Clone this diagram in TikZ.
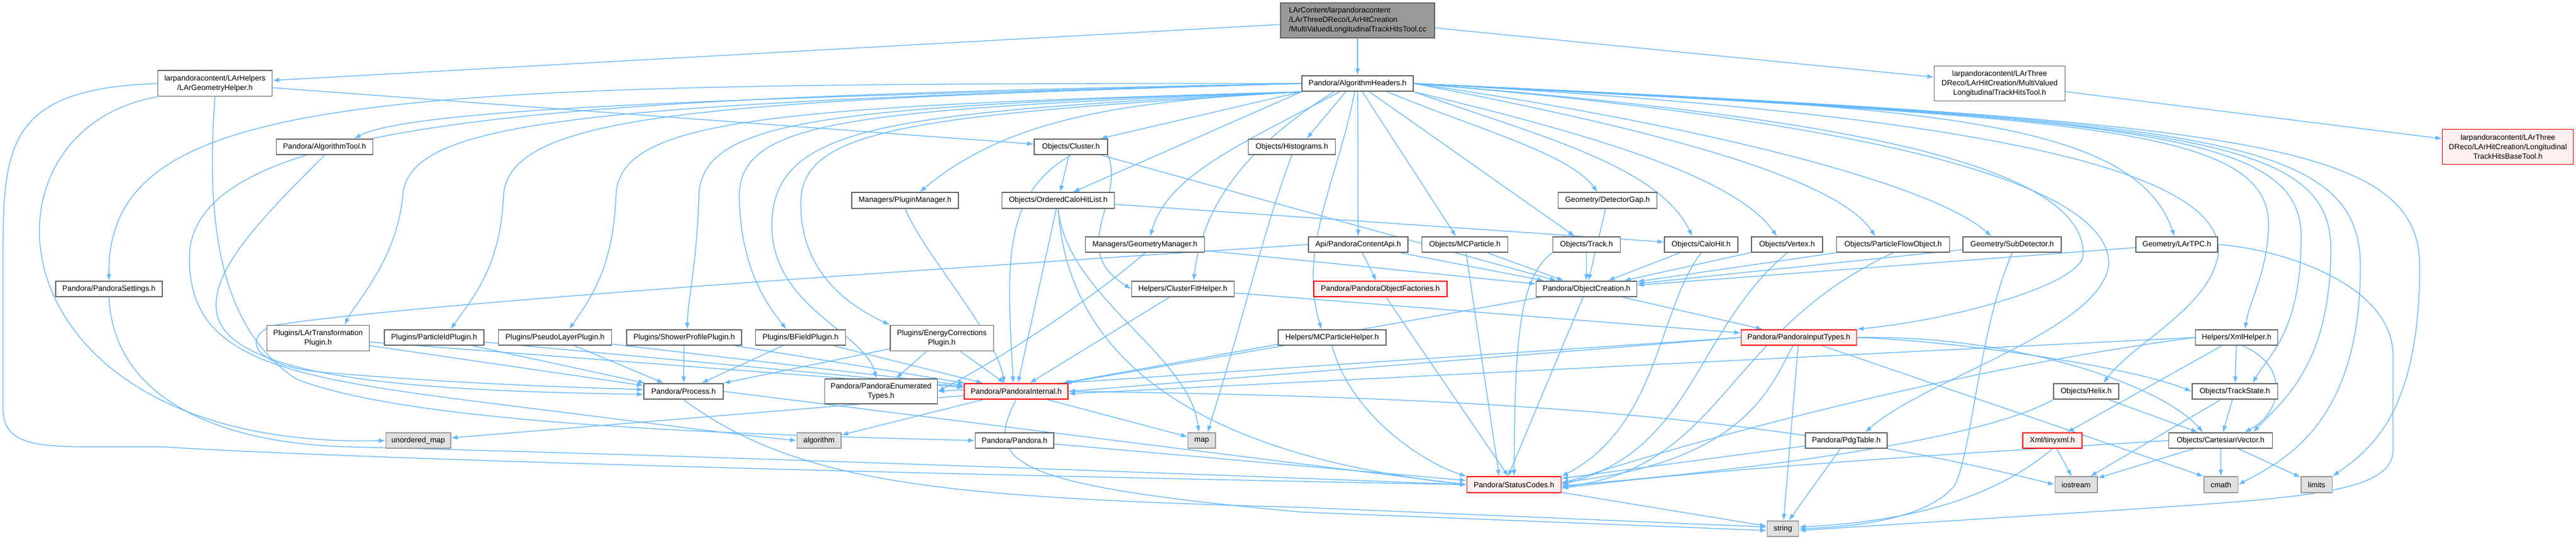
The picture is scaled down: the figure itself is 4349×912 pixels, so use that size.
\documentclass[tikz,border=0pt]{standalone}
\usepackage{fontspec}
\newfontfamily\lab{Liberation Sans}
\usetikzlibrary{arrows.meta}
\definecolor{edgec}{HTML}{63B8FF}
\definecolor{bord}{HTML}{666666}
\definecolor{mainf}{HTML}{999999}
\definecolor{redf}{HTML}{FFF0F0}
\definecolor{redb}{HTML}{FF0000}
\definecolor{sysf}{HTML}{E0E0E0}
\definecolor{sysb}{HTML}{999999}
\pgfdeclarelayer{bgwhite}
\pgfdeclarelayer{edges}
\pgfsetlayers{bgwhite,edges,main}
\tikzset{
  box/.style={draw=bord, fill=white, line width=1.6pt, inner sep=0pt, align=center,
    font={\lab\fontsize{12.8pt}{16pt}\selectfont}, minimum height=26.5pt},
  mainbox/.style={box, fill=mainf},
  redbox/.style={box, draw=redb, fill=redf},
  sysbox/.style={box, draw=sysb, fill=sysf},
  edge/.style={draw=edgec, line width=1.3pt, -{Latex[length=11pt,width=8pt]}},
}
\begin{document}
\begin{tikzpicture}[x=1pt,y=-1pt]
\begin{pgfonlayer}{bgwhite}
\fill[white] (0,0) rectangle (4349,912);
\end{pgfonlayer}
\useasboundingbox (0,0) rectangle (4349,912);

% ---------- nodes ----------
\node[mainbox, minimum width=260pt, minimum height=59pt, align=left] (main) at (2292,34.3)
  {LArContent/larpandoracontent\\/LArThreeDReco/LArHitCreation\\/MultiValuedLongitudinalTrackHitsTool.cc};
\node[box, minimum width=188pt] (algh) at (2292,141) {Pandora/AlgorithmHeaders.h};
\node[box, minimum width=193pt, minimum height=43.4pt] (lgh) at (363,141) {larpandoracontent/LArHelpers\\/LArGeometryHelper.h};
\node[box, minimum width=221pt, minimum height=59pt] (mvh) at (3376,141) {larpandoracontent/LArThree\\DReco/LArHitCreation/MultiValued\\LongitudinalTrackHitsTool.h};
\node[redbox, minimum width=221pt, minimum height=58.6pt] (base) at (4234,248) {larpandoracontent/LArThree\\DReco/LArHitCreation/Longitudinal\\TrackHitsBaseTool.h};
\node[box, minimum width=163pt] (atool) at (548,248) {Pandora/AlgorithmTool.h};
\node[box, minimum width=124pt] (cluster) at (1808,248) {Objects/Cluster.h};
\node[box, minimum width=147pt] (hist) at (2181,248) {Objects/Histograms.h};
\node[box, minimum width=180pt] (pluginmgr) at (1528,338.5) {Managers/PluginManager.h};
\node[box, minimum width=190pt] (ochl) at (1786.5,338.5) {Objects/OrderedCaloHitList.h};
\node[box, minimum width=167pt] (detgap) at (2714,338.5) {Geometry/DetectorGap.h};
\node[box, minimum width=201pt] (geomgr) at (1933,413) {Managers/GeometryManager.h};
\node[box, minimum width=168pt] (api) at (2293,413) {Api/PandoraContentApi.h};
\node[box, minimum width=145pt] (mcp) at (2473,413) {Objects/MCParticle.h};
\node[box, minimum width=114pt] (track) at (2678.5,413) {Objects/Track.h};
\node[box, minimum width=123.5pt] (calohit) at (2872,413) {Objects/CaloHit.h};
\node[box, minimum width=120pt] (vertex) at (3017,413) {Objects/Vertex.h};
\node[box, minimum width=191pt] (pfo) at (3196,413) {Objects/ParticleFlowObject.h};
\node[box, minimum width=165.5pt] (subdet) at (3397,413) {Geometry/SubDetector.h};
\node[box, minimum width=138pt] (lartpc) at (3675,413) {Geometry/LArTPC.h};
\node[box, minimum width=180pt] (settings) at (184,488) {Pandora/PandoraSettings.h};
\node[box, minimum width=173pt] (cfh) at (1997,488) {Helpers/ClusterFitHelper.h};
\node[redbox, minimum width=224.5pt] (factories) at (2330.5,488) {Pandora/PandoraObjectFactories.h};
\node[box, minimum width=170pt] (objcreate) at (2678.5,488) {Pandora/ObjectCreation.h};
\node[box, minimum width=173pt, minimum height=43.3pt] (lartp) at (537,571) {Plugins/LArTransformation\\Plugin.h};
\node[box, minimum width=168pt] (pidp) at (733,570) {Plugins/ParticleIdPlugin.h};
\node[box, minimum width=191pt] (plp) at (937,570) {Plugins/PseudoLayerPlugin.h};
\node[box, minimum width=193.5pt] (spp) at (1155,570) {Plugins/ShowerProfilePlugin.h};
\node[box, minimum width=152pt] (bfp) at (1351.5,570) {Plugins/BFieldPlugin.h};
\node[box, minimum width=174.6pt, minimum height=43.3pt] (ecp) at (1590,571) {Plugins/EnergyCorrections\\Plugin.h};
\node[box, minimum width=181.6pt] (mcph) at (2249,570) {Helpers/MCParticleHelper.h};
\node[redbox, minimum width=195pt] (pit) at (3037,570) {Pandora/PandoraInputTypes.h};
\node[box, minimum width=139pt] (xmlh) at (3776,570) {Helpers/XmlHelper.h};
\node[box, minimum width=133.7pt] (process) at (1154,661) {Pandora/Process.h};
\node[box, minimum width=190pt, minimum height=42.3pt] (enum) at (1487.5,661) {Pandora/PandoraEnumerated\\Types.h};
\node[redbox, minimum width=175pt] (internal) at (1715.6,661) {Pandora/PandoraInternal.h};
\node[box, minimum width=110pt] (helix) at (3522,661) {Objects/Helix.h};
\node[box, minimum width=144.6pt] (trackstate) at (3773,661) {Objects/TrackState.h};
\node[sysbox, minimum width=109.4pt] (umap) at (706,744) {unordered\_map};
\node[sysbox, minimum width=74.4pt] (algorithm) at (1382.7,744) {algorithm};
\node[box, minimum width=132.5pt] (pandora) at (1712.8,744) {Pandora/Pandora.h};
\node[sysbox, minimum width=46.4pt] (map) at (2028.8,744) {map};
\node[box, minimum width=137.6pt] (pdg) at (3117,744) {Pandora/PdgTable.h};
\node[redbox, minimum width=99.6pt] (tinyxml) at (3465,744) {Xml/tinyxml.h};
\node[box, minimum width=174.7pt] (cartesian) at (3749,744) {Objects/CartesianVector.h};
\node[redbox, minimum width=159pt] (status) at (2556,818.5) {Pandora/StatusCodes.h};
\node[sysbox, minimum width=71.4pt] (iostream) at (3505,818.5) {iostream};
\node[sysbox, minimum width=57.5pt] (cmath) at (3749.5,818.5) {cmath};
\node[sysbox, minimum width=52.6pt] (limits) at (3911,818.5) {limits};
\node[sysbox, minimum width=53.3pt] (string) at (3010,893) {string};

% ---------- edges ----------
\begin{pgfonlayer}{edges}
% main
\draw[edge] (main) -- (algh);
\draw[edge] (main) -- (lgh);
\draw[edge] (main) -- (mvh);
\draw[edge] (mvh) -- (base);
% LArGeometryHelper
\draw[edge] (lgh) -- (cluster);
\draw[edge] (lgh.south west) .. controls (-60,220) and (-20,760) .. (umap.west);
\draw[edge] (lgh.west) .. controls (5,150) and (5,250) .. (5,450) -- (5,690)
  .. controls (5,770) and (100,752) .. (280,755) .. controls (600,775) and (1500,800) .. (status.west);
\draw[edge] (lgh.south) .. controls (345,400) and (380,560) .. (500,640)
  .. controls (700,720) and (1300,735) .. (pandora.west);
% AlgorithmHeaders, left fan
\draw[edge] (algh.west) .. controls (650,140) and (180,150) .. (settings.north);
\draw[edge] (algh.west) .. controls (1300,165) and (700,180) .. ([xshift=50]atool.north);
\draw[edge] (algh.west) .. controls (1000,165) and (330,190) .. (320,430)
  .. controls (315,620) and (500,640) .. (900,690) .. controls (1100,715) and (1250,735) .. (algorithm.west);
\draw[edge] (algh.west) .. controls (1000,175) and (690,200) .. (680,330)
  .. controls (670,440) and (600,510) .. ([xshift=45]lartp.north);
\draw[edge] (algh.west) .. controls (1200,170) and (860,190) .. (850,330)
  .. controls (845,450) and (800,500) .. ([xshift=28]pidp.north);
\draw[edge] (algh.south west) .. controls (1300,180) and (1045,200) .. (1040,330)
  .. controls (1035,450) and (1000,500) .. ([xshift=24]plp.north);
\draw[edge] (algh.south west) .. controls (1400,180) and (1185,200) .. (1180,330)
  .. controls (1176,450) and (1162,500) .. ([xshift=5]spp.north);
\draw[edge] (algh.south west) .. controls (1450,185) and (1250,200) .. (1248,330)
  .. controls (1250,460) and (1300,520) .. ([xshift=-24]bfp.north);
\draw[edge] (algh.south west) .. controls (1500,190) and (1305,210) .. (1303,380)
  .. controls (1303,520) and (1460,560) .. ([xshift=-8]enum.north);
\draw[edge] (algh.south west) .. controls (1550,195) and (1355,215) .. (1352,340)
  .. controls (1350,450) and (1420,510) .. (ecp.north west);
\draw[edge] (algh.south west) .. controls (1900,170) and (1700,200) .. ([xshift=25]pluginmgr.north);
\draw[edge] (algh.south west) -- ([xshift=50]cluster.north);
\draw[edge] (algh.south west) -- ([xshift=25]ochl.north);
\draw[edge] ([xshift=-20]algh.south) -- ([xshift=25]hist.north);
\draw[edge] ([xshift=-30]algh.south) .. controls (2080,250) and (1970,300) .. ([xshift=9]geomgr.north);
\draw[edge] ([xshift=-40]algh.south) .. controls (2100,250) and (2030,350) .. ([xshift=18]cfh.north);
\draw[edge] ([xshift=-5]algh.south) .. controls (2260,300) and (2190,420) .. ([xshift=-18]mcph.north);
\draw[edge] (algh) -- (api);
\draw[edge] ([xshift=8]algh.south) -- ([xshift=-15]mcp.north);
\draw[edge] ([xshift=20]algh.south) -- ([xshift=-20]track.north);
\draw[edge] ([xshift=50]algh.south) .. controls (2500,220) and (2650,260) .. ([xshift=-17]detgap.north);
\draw[edge] (algh.south east) .. controls (2600,230) and (2800,280) .. ([xshift=-15]calohit.north);
\draw[edge] (algh.south east) .. controls (2700,230) and (2930,300) .. ([xshift=-17]vertex.north);
\draw[edge] (algh.east) .. controls (2800,220) and (3100,300) .. ([xshift=-30]pfo.north);
\draw[edge] (algh.east) .. controls (2800,200) and (3250,300) .. ([xshift=-35]subdet.north);
\draw[edge] (algh.east) .. controls (3200,180) and (3600,190) .. ([xshift=-4]lartpc.north);
\draw[edge] (algh.east) .. controls (3000,190) and (3520,260) .. (3517,430)
  .. controls (3515,480) and (3300,540) .. (pit.north east);
\draw[edge] (algh.east) .. controls (3100,200) and (3570,300) .. (3560,450)
  .. controls (3540,560) and (3250,640) .. ([xshift=32]pdg.north);
\draw[edge] (algh.east) .. controls (3300,190) and (3760,280) .. (3745,430)
  .. controls (3730,520) and (3600,580) .. ([xshift=29]helix.north);
\draw[edge] (algh.east) .. controls (3500,200) and (3830,210) .. (3830,380)
  .. controls (3828,460) and (3800,500) .. ([xshift=14]xmlh.north);
\draw[edge] (algh.east) .. controls (3600,200) and (3885,220) .. (3885,400)
  .. controls (3885,560) and (3830,600) .. ([xshift=30]trackstate.north);
\draw[edge] (algh.east) .. controls (3650,205) and (3935,220) .. (3935,420)
  .. controls (3935,620) and (3850,680) .. ([xshift=55]cartesian.north);
\draw[edge] (algh.east) .. controls (3700,205) and (3985,220) .. (3985,450)
  .. controls (3985,720) and (3850,780) .. (cmath.east);
\draw[edge] (algh.east) .. controls (3800,205) and (4085,240) .. (4085,450)
  .. controls (4085,700) and (4000,760) .. (limits.north east);
% AlgorithmTool, settings, api
\draw[edge] (atool.south) .. controls (450,360) and (360,450) .. (365,520)
  .. controls (370,640) and (700,660) .. ([yshift=-5]process.west);
\draw[edge] (settings.south) .. controls (190,650) and (330,750) .. (600,755)
  .. controls (1200,770) and (2000,800) .. (status.west);
\draw[edge] (api.west) .. controls (1800,440) and (700,510) .. (460,550)
  .. controls (410,570) and (420,620) .. (560,630) .. controls (800,650) and (1000,655) .. ([yshift=3]process.west);
\draw[edge] (api) -- (factories);
\draw[edge] (api) -- (objcreate);
% plugins
\draw[edge] (lartp) -- (process);
\draw[edge] (lartp) -- (internal);
\draw[edge] (pidp) -- (process);
\draw[edge] (pidp) -- (internal);
\draw[edge] (plp) -- (process);
\draw[edge] (plp) -- (internal);
\draw[edge] (spp) -- (process);
\draw[edge] (spp) -- (internal);
\draw[edge] (bfp) -- (process);
\draw[edge] (bfp) -- (internal);
\draw[edge] (ecp) -- (process);
\draw[edge] (ecp) -- (enum);
\draw[edge] (ecp) -- (internal);
% managers, cluster, helpers
\draw[edge] (pluginmgr.south) .. controls (1560,430) and (1680,560) .. ([xshift=-20]internal.north);
\draw[edge] (geomgr.south) .. controls (1850,500) and (1700,600) .. (enum.east);
\draw[edge] (geomgr) -- (objcreate);
\draw[edge] (cluster) -- (ochl);
\draw[edge] (cluster.south east) .. controls (1900,340) and (1800,420) .. (cfh.west);
\draw[edge] (cluster.south) .. controls (1690,330) and (1700,450) .. ([xshift=-5]internal.north);
\draw[edge] (cluster) -- (objcreate);
\draw[edge] (ochl) -- (internal);
\draw[edge] (ochl) -- (calohit);
\draw[edge] (ochl.south) .. controls (1800,500) and (2010,600) .. ([xshift=-5]map.north);
\draw[edge] (ochl.south) .. controls (1800,560) and (1950,760) .. (status.west);
\draw[edge] (hist.south) .. controls (2130,400) and (2110,500) .. ([xshift=10]map.north);
\draw[edge] (cfh) -- (internal);
\draw[edge] (cfh) -- (pit);
\draw[edge] (mcph) -- (internal);
\draw[edge] (mcph.south) .. controls (2280,700) and (2400,780) .. (status.north west);
\draw[edge] (factories) -- (status);
% objects to ObjectCreation / StatusCodes
\draw[edge] (mcp) -- (objcreate);
\draw[edge] (mcp) -- ([xshift=-25]status.north);
\draw[edge] (track) -- (objcreate);
\draw[edge] (track.south west) .. controls (2560,470) and (2558,600) .. (status.north);
\draw[edge] (detgap) -- (objcreate);
\draw[edge] (calohit) -- (objcreate);
\draw[edge] (calohit.south) .. controls (2800,520) and (2800,720) .. (status.north east);
\draw[edge] (vertex) -- (objcreate);
\draw[edge] (vertex.south) .. controls (2860,560) and (2860,760) .. (status.east);
\draw[edge] (pfo) -- (objcreate);
\draw[edge] (pfo.south) .. controls (2910,560) and (2910,790) .. ([yshift=-4]status.east);
\draw[edge] (subdet) -- (objcreate);
\draw[edge] (subdet.south) .. controls (3340,560) and (3330,760) .. (3300,820)
  .. controls (3250,880) and (3120,890) .. (string.east);
\draw[edge] (lartpc) -- (objcreate);
\draw[edge] (lartpc.east) .. controls (3850,420) and (4040,480) .. (4040,600) -- (4040,760)
  .. controls (4040,830) and (3900,840) .. (3600,860) -- ([yshift=-3]string.east);
% ObjectCreation
\draw[edge] (objcreate) -- ([xshift=-10]status.north);
\draw[edge] (objcreate) -- (internal);
\draw[edge] (objcreate) -- (pit);
% PandoraInputTypes
\draw[edge] (pit.west) -- (internal.east);
\draw[edge] (pit.west) -- (enum.east);
\draw[edge] ([xshift=-10]pit.south) .. controls (2990,650) and (2950,780) .. ([yshift=4]status.east);
\draw[edge] (pit) -- (string);
\draw[edge] ([xshift=40]pit.south) -- (cmath.north west);
\draw[edge] (pit.east) .. controls (3300,575) and (3600,620) .. (trackstate.west);
\draw[edge] (pit.east) .. controls (3400,565) and (3650,650) .. ([xshift=-30]cartesian.north);
% XmlHelper, Helix, TrackState, tinyxml, CartesianVector, PdgTable
\draw[edge] (xmlh.west) -- ([yshift=-4]internal.east);
\draw[edge] (xmlh.west) .. controls (3400,610) and (3000,700) .. ([yshift=2]status.east);
\draw[edge] (xmlh) -- (tinyxml);
\draw[edge] (xmlh) -- (trackstate);
\draw[edge] ([xshift=10]xmlh.south) .. controls (3870,620) and (3850,700) .. ([xshift=40]cartesian.north);
\draw[edge] (helix) -- (cartesian);
\draw[edge] (helix.south west) .. controls (3350,740) and (3000,790) .. ([yshift=-2]status.east);
\draw[edge] (trackstate) -- (cartesian);
\draw[edge] (trackstate) -- (iostream);
\draw[edge] (tinyxml) -- (iostream);
\draw[edge] (tinyxml.south) .. controls (3380,830) and (3250,880) .. ([yshift=3]string.east);
\draw[edge] (cartesian) -- (iostream);
\draw[edge] (cartesian) -- (cmath);
\draw[edge] (cartesian) -- (limits);
\draw[edge] (cartesian.west) .. controls (3400,760) and (2900,790) .. ([yshift=-6]status.east);
\draw[edge] (pdg) -- (status);
\draw[edge] (pdg) -- (string);
% core
\draw[edge] (process.east) -- (status.west);
\draw[edge] (process.south) .. controls (1350,820) and (1600,840) .. (2200,857) -- ([yshift=3]string.west);
\draw[edge] (pandora) -- (status);
\draw[edge] (internal) -- (algorithm);
\draw[edge] (internal) -- (map);
\draw[edge] (internal) -- (umap);
\draw[edge] (internal.east) .. controls (2500,670) and (3000,700) .. (iostream.west);
\draw[edge] (internal.south) .. controls (1660,780) and (1700,820) .. (2200,865) -- ([yshift=-3]string.west);
\draw[edge] (status) -- (string);
\end{pgfonlayer}
\end{tikzpicture}
\end{document}
